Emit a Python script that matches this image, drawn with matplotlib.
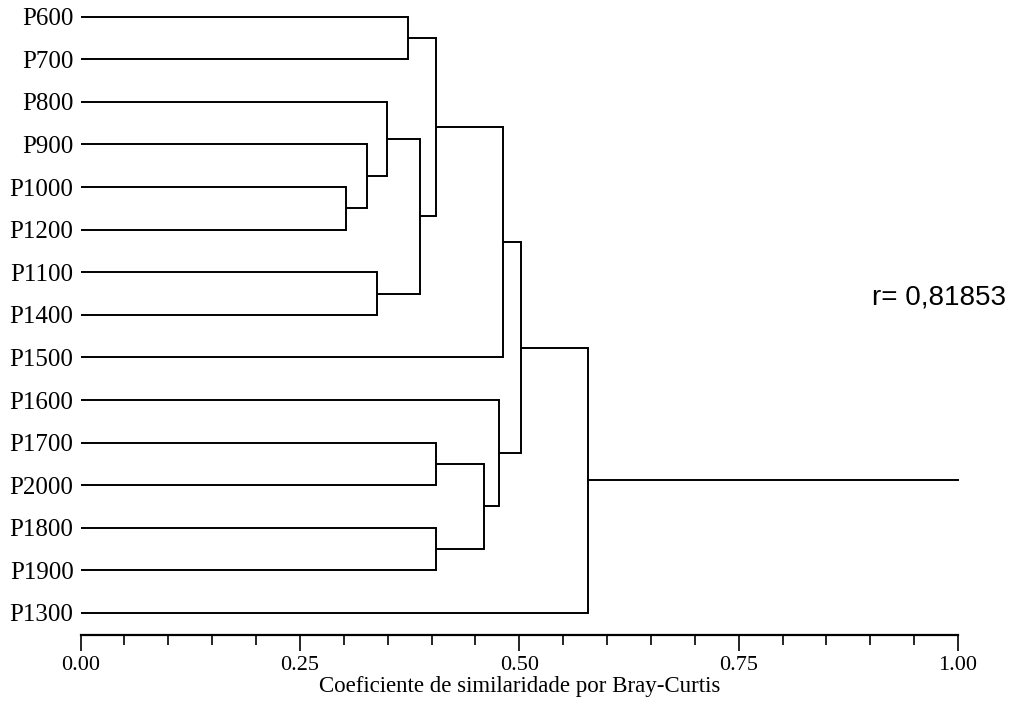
import matplotlib
matplotlib.use("Agg")
import matplotlib.pyplot as plt
from matplotlib.ticker import MultipleLocator, FormatStrFormatter

# Leaves, top to bottom
leaves = ["P600", "P700", "P800", "P900", "P1000", "P1200", "P1100", "P1400",
          "P1500", "P1600", "P1700", "P2000", "P1800", "P1900", "P1300"]

# Merge steps: (left child, right child, similarity level)
merge_left = ["P1000", "P900", "P800", "P1100", "c3", "P600", "c6", "c7",
              "P1700", "P1800", "c9", "P1600", "c8", "c13"]
merge_right = ["P1200", "c1", "c2", "P1400", "c4", "P700", "c5", "P1500",
               "P2000", "P1900", "c10", "c11", "c12", "P1300"]
merge_level = [0.303, 0.326, 0.349, 0.338, 0.387, 0.373, 0.405, 0.481,
               0.405, 0.405, 0.460, 0.477, 0.502, 0.578]
root_end = 1.0

r_text = "r= 0,81853"

plt.rcParams["font.family"] = ["Liberation Serif", "DejaVu Serif"]

fig = plt.figure(figsize=(10.11, 7.08), dpi=100)
ax = fig.add_axes([80.5 / 1011, 1 - 635 / 708, 877.5 / 1011, 635 / 708])

lw = 1.4
ypos = {name: i for i, name in enumerate(leaves)}
xpos = {name: 0.0 for name in leaves}

for k, (a, b, h) in enumerate(zip(merge_left, merge_right, merge_level), start=1):
    ya, yb = ypos[a], ypos[b]
    ax.plot([xpos[a], h], [ya, ya], color="black", lw=lw, solid_capstyle="butt")
    ax.plot([xpos[b], h], [yb, yb], color="black", lw=lw, solid_capstyle="butt")
    ax.plot([h, h], [ya, yb], color="black", lw=lw, solid_capstyle="projecting")
    name = f"c{k}"
    ypos[name] = (ya + yb) / 2
    xpos[name] = h

last = f"c{len(merge_level)}"
ax.plot([xpos[last], root_end], [ypos[last], ypos[last]], color="black", lw=lw,
        clip_on=False)

ax.set_xlim(0, 1)
spacing = 42.59
ax.set_ylim((635 - 16.7) / spacing, -16.7 / spacing)

ax.set_yticks(range(len(leaves)))
ax.set_yticklabels(leaves, fontsize=18)
ax.tick_params(axis="y", length=0, pad=5)

ax.xaxis.set_major_locator(MultipleLocator(0.25))
ax.xaxis.set_minor_locator(MultipleLocator(0.05))
ax.xaxis.set_major_formatter(FormatStrFormatter("%.2f"))
ax.tick_params(axis="x", which="major", length=11.5, width=1.2, labelsize=16, pad=3.5)
ax.tick_params(axis="x", which="minor", length=7.2, width=1.2)
ax.set_xlabel("Coeficiente de similaridade por Bray-Curtis", fontsize=16.5, labelpad=1)

for side in ["top", "right", "left"]:
    ax.spines[side].set_visible(False)
ax.spines["bottom"].set_linewidth(1.6)

fig.text(872 / 1011, 1 - 297 / 708, r_text, family=["Liberation Sans", "DejaVu Sans"],
         fontsize=20, va="center", ha="left")

fig.savefig("out.png", dpi=100)
